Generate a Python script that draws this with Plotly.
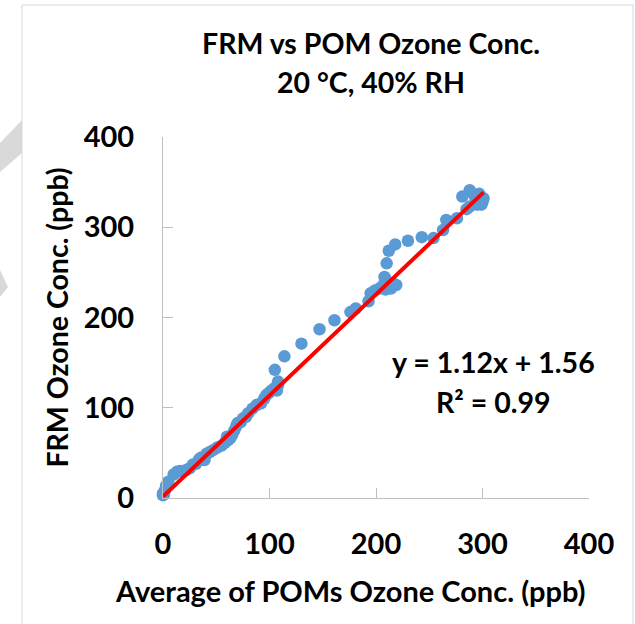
import plotly.graph_objects as go

# ---- data ----
pom_avg = [0, 0, 1, 2, 3, 5, 10, 13, 16, 19, 22, 25, 28, 31, 34, 36, 39, 41, 44, 47,
           51, 55, 58, 61, 63, 60, 65, 67, 69, 70, 73, 75, 78, 80, 84, 88, 92, 95, 97, 99,
           101, 103, 105, 107, 108, 108, 105, 114, 130, 147, 161, 176, 181, 193, 195, 199,
           203, 207, 209, 211, 214, 216, 219, 209, 208, 210, 212, 218, 230, 243, 254, 263,
           266, 276, 281, 285, 288, 288, 292, 295, 297, 300, 301, 299, 294]
frm = [3, 5, 4, 9, 14, 18, 26, 29, 30, 30, 31, 33, 37, 38, 43, 45, 42, 49, 51, 53,
       56, 58, 61, 64, 66, 68, 70, 75, 80, 83, 84, 88, 90, 94, 99, 103, 105, 110, 114, 116,
       118, 120, 122, 119, 125, 129, 142, 157, 171, 187, 197, 206, 210, 218, 227, 230,
       232, 236, 231, 234, 232, 238, 236, 242, 245, 260, 274, 281, 285, 289, 288, 297,
       308, 310, 334, 320, 323, 341, 336, 325, 337, 328, 332, 325, 330]

slope = 1.12
intercept = 1.56
r_squared = 0.99

title_lines = ["FRM vs POM Ozone Conc.", "20 °C, 40% RH"]
x_title = "Average of POMs Ozone Conc. (ppb)"
y_title = "FRM Ozone Conc. (ppb)"
tick_vals = [0, 100, 200, 300, 400]

# ---- layout geometry ----
W, H = 635, 624
L, R, T, B = 163, 46, 137, 126
PW, PH = W - L - R, H - T - B


def px(xp):
    return (xp - L) / PW


def py(yp):
    return (H - B - yp) / PH


FONT = "Lato"
BLACK = "#000000"
AXIS = "#BFBFBF"
TXT = 28.5

fig = go.Figure()

fig.add_trace(go.Scatter(
    x=pom_avg, y=frm, mode="markers",
    marker=dict(size=12.5, color="#5B9BD5", line=dict(width=0)),
    cliponaxis=False, showlegend=False,
))

x_fit = [min(pom_avg), max(pom_avg)]
y_fit = [slope * v + intercept for v in x_fit]
fig.add_trace(go.Scatter(
    x=x_fit, y=y_fit, mode="lines",
    line=dict(color="#FF0000", width=4),
    cliponaxis=False, showlegend=False,
))

axis_common = dict(
    range=[0, 400], tickvals=tick_vals, showgrid=False, zeroline=False,
    showline=True, linecolor=AXIS, linewidth=1,
    ticks="inside", ticklen=10, tickcolor=AXIS, tickwidth=1,
    tickfont=dict(family=FONT, size=29, color=BLACK, weight="bold"),
    fixedrange=True,
)

fig.update_xaxes(**axis_common, ticklabelstandoff=20)
fig.update_yaxes(**axis_common, ticklabelstandoff=22,
                 title=dict(text=y_title, standoff=6,
                            font=dict(family=FONT, size=TXT, color=BLACK, weight="bold")))

annotations = [
    dict(text=title_lines[0], x=px(371), y=py(43)),
    dict(text=title_lines[1], x=px(371), y=py(82)),
    dict(text=f"y = {slope:.2f}x + {intercept:.2f}", x=px(493), y=py(362)),
    dict(text=f"R² = {r_squared:.2f}", x=px(493), y=py(402)),
    dict(text=x_title, x=px(350), y=py(590), size=29),
]
fig.update_layout(annotations=[
    dict({k: v for k, v in a.items() if k != "size"},
         xref="paper", yref="paper", xanchor="center", yanchor="middle",
         showarrow=False,
         font=dict(family=FONT, size=a.get("size", TXT), color=BLACK, weight="bold"))
    for a in annotations
])

shapes = [
    # chart border
    dict(type="rect", xref="paper", yref="paper",
         x0=px(22), x1=px(633), y0=py(5), y1=py(640),
         line=dict(color="#D9D9D9", width=1), fillcolor="rgba(0,0,0,0)", layer="below"),
    # partial grey watermark strokes at the left edge
    dict(type="path", xref="paper", yref="paper",
         path=f"M {px(0)},{py(143)} L {px(22)},{py(120)} L {px(22)},{py(153)} L {px(0)},{py(172)} Z",
         fillcolor="#D9D9D9", line=dict(width=0), layer="below"),
    dict(type="path", xref="paper", yref="paper",
         path=f"M {px(0)},{py(270)} L {px(8)},{py(287)} L {px(0)},{py(297)} Z",
         fillcolor="#D9D9D9", line=dict(width=0), layer="below"),
]

fig.update_layout(
    width=W, height=H,
    margin=dict(l=L, r=R, t=T, b=B, autoexpand=False),
    paper_bgcolor="white", plot_bgcolor="white",
    shapes=shapes, showlegend=False,
    font=dict(family=FONT, color=BLACK),
)

fig.write_html(
    "out.html",
    config={"displayModeBar": False},
    post_script="document.body.style.margin='0';document.body.style.overflow='hidden';",
)
